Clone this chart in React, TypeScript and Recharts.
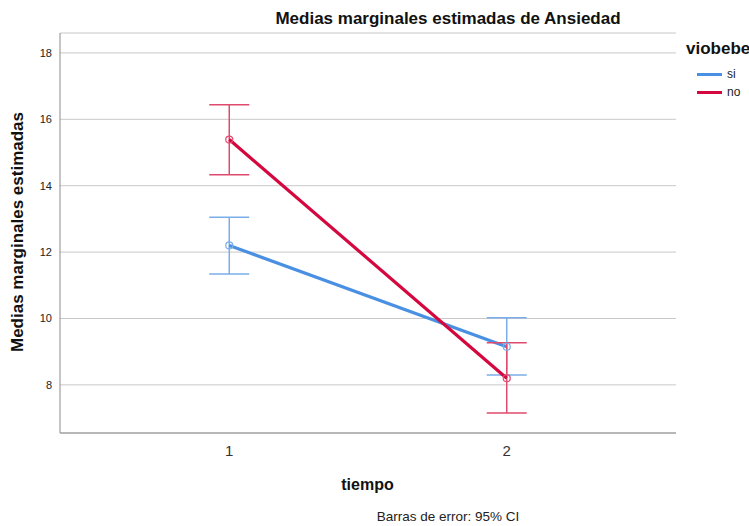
import { LineChart, Line, XAxis, YAxis, CartesianGrid, ErrorBar } from 'recharts';

const tiempos = [1, 2];
const siMedias = [12.2, 9.15];
const siInferior = [11.34, 8.3];
const siSuperior = [13.05, 10.02];
const noMedias = [15.39, 8.2];
const noInferior = [14.33, 7.15];
const noSuperior = [16.44, 9.27];
const yTicks = [8, 10, 12, 14, 16, 18];

const series = [
  { key: 'si', name: 'si', color: '#4a90e2', barColor: '#7aaee8' },
  { key: 'no', name: 'no', color: '#d4073e', barColor: '#e04a6e' },
];

const data = tiempos.map((t, i) => ({
  tiempo: t,
  si: siMedias[i],
  siErr: [siMedias[i] - siInferior[i], siSuperior[i] - siMedias[i]],
  no: noMedias[i],
  noErr: [noMedias[i] - noInferior[i], noSuperior[i] - noMedias[i]],
}));

const font = '"Liberation Sans", Arial, sans-serif';

export default function App() {
  return (
    <div style={{ position: 'absolute', left: 0, top: 0, width: 749, height: 526, fontFamily: font, background: '#fff', overflow: 'hidden' }}>
      <LineChart
        width={749}
        height={526}
        data={data}
        margin={{ top: 33, right: 73, bottom: 63, left: 0 }}
      >
        <CartesianGrid vertical={false} stroke="#c8c8c8" />
        <XAxis
          dataKey="tiempo"
          type="number"
          domain={[0.39, 2.61]}
          ticks={tiempos}
          height={30}
          tickSize={0}
          tickMargin={12}
          stroke="#8c8c8c"
          tick={{ fill: '#333', fontSize: 15, fontFamily: font }}
        />
        <YAxis
          type="number"
          domain={[6.55, 18.6]}
          ticks={yTicks}
          width={60}
          tickSize={0}
          tickMargin={8}
          stroke="#8c8c8c"
          tick={{ fill: '#222', fontSize: 11, fontFamily: font }}
        />
        {series.map((s) => (
          <Line
            key={s.key}
            dataKey={s.key}
            name={s.name}
            stroke={s.color}
            strokeWidth={3.2}
            dot={{ r: 3.5, stroke: s.barColor, strokeWidth: 1.2, fill: 'none' }}
            activeDot={false}
            isAnimationActive={false}
          >
            <ErrorBar dataKey={s.key + 'Err'} width={20} stroke={s.barColor} strokeWidth={1.5} direction="y" />
          </Line>
        ))}
      </LineChart>
      <div style={{ position: 'absolute', left: 0, width: 896, top: 9, textAlign: 'center', fontSize: 17, fontWeight: 'bold', color: '#111' }}>
        Medias marginales estimadas de Ansiedad
      </div>
      <div style={{ position: 'absolute', left: 686, top: 39, fontSize: 17, fontWeight: 'bold', color: '#111', whiteSpace: 'nowrap' }}>
        viobebe
      </div>
      {series.map((s, i) => (
        <div key={s.key} style={{ position: 'absolute', left: 697, top: 67 + i * 18, display: 'flex', alignItems: 'center', fontSize: 12, color: '#222' }}>
          <span style={{ display: 'inline-block', width: 25, height: 3, background: s.color, marginRight: 5 }} />
          {s.name}
        </div>
      ))}
      <div style={{ position: 'absolute', left: 18, top: 232, transform: 'translate(-50%, -50%) rotate(-90deg)', fontSize: 17, fontWeight: 'bold', color: '#111', whiteSpace: 'nowrap' }}>
        Medias marginales estimadas
      </div>
      <div style={{ position: 'absolute', left: 0, width: 735, top: 476, textAlign: 'center', fontSize: 16, fontWeight: 'bold', color: '#111' }}>
        tiempo
      </div>
      <div style={{ position: 'absolute', left: 0, width: 896, top: 509, textAlign: 'center', fontSize: 13.5, color: '#222' }}>
        Barras de error: 95% CI
      </div>
    </div>
  );
}
